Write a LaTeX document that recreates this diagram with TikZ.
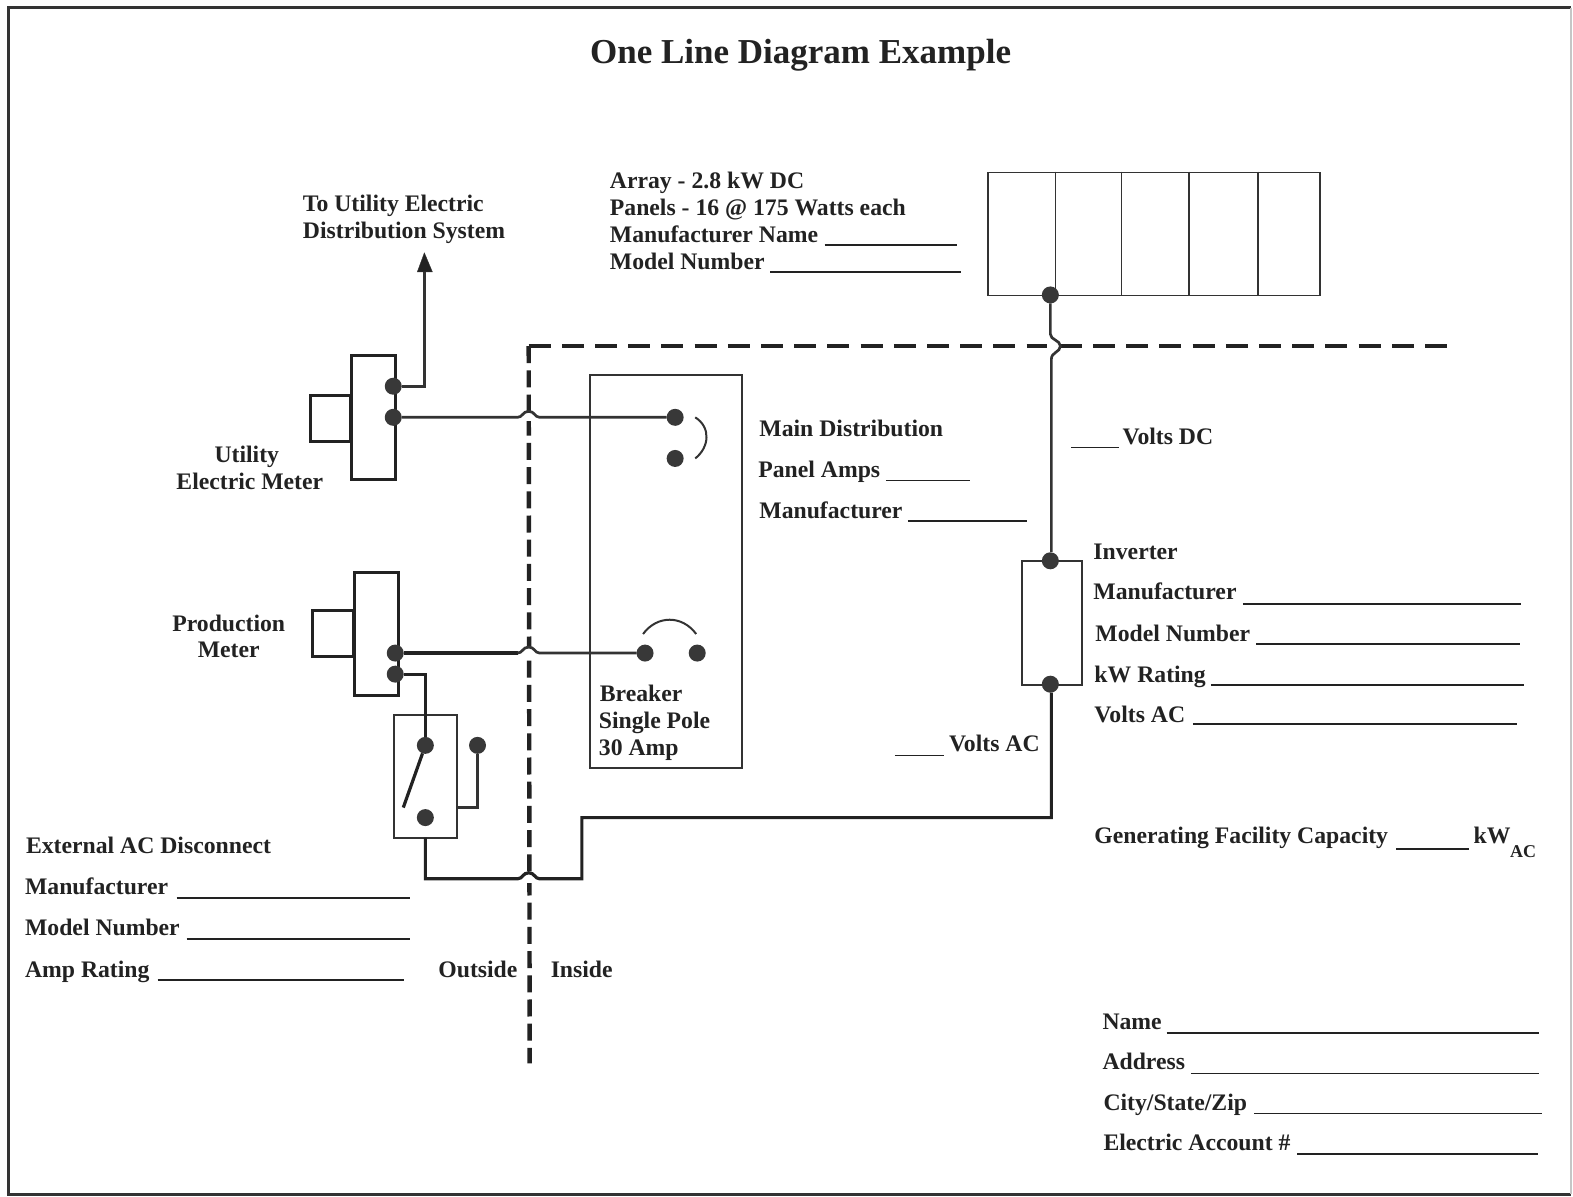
\documentclass[tikz,border=0pt]{standalone}
\usepackage{fontspec}
\setmainfont{Liberation Serif}
\usetikzlibrary{arrows.meta}
\definecolor{ink}{HTML}{222222}
\definecolor{wire}{HTML}{333333}
\newcommand{\bodyfs}{\fontsize{23.7}{27}\selectfont\bfseries}
\tikzset{
  lab/.style={anchor=base west,inner sep=0pt,outer sep=0pt,text=ink,font=\bodyfs},
  clab/.style={anchor=base,inner sep=0pt,outer sep=0pt,text=ink,font=\bodyfs},
  titlelab/.style={anchor=base,inner sep=0pt,text=ink,font=\fontsize{35}{38}\selectfont\bfseries},
  sublab/.style={anchor=base west,inner sep=0pt,text=ink,font=\fontsize{18}{20}\selectfont\bfseries},
  dot/.style={circle,fill=ink!90!white,draw=none,minimum size=17pt,inner sep=0pt,outer sep=0pt},
  meterbox/.style={draw=ink,line width=3pt,outer sep=0pt},
  thinbox/.style={draw=wire,line width=1.7pt,outer sep=0pt},
  wireline/.style={draw=wire,line width=2.7pt},
  thickwire/.style={draw=ink,line width=3.2pt},
  blank/.style={draw=ink,line width=1.8pt},
  boundary/.style={draw=ink,line width=4.4pt},
}
\begin{document}
\begin{tikzpicture}[x=1.0032pt,y=-1.0032pt]
\useasboundingbox (0,0) rectangle (1568,1193);
\fill[white] (0,0) rectangle (1568,1193);
\draw[draw=wire,line width=3pt] (1566,7.5) -- (8.5,7.5) -- (8.5,1190.5) -- (1566,1190.5);
\draw[draw=gray!45,line width=1.5pt] (1566,7.5) -- (1566,1190.5);

% boundary
\coordinate (bcorner) at (527,345);
\coordinate (bright) at (1443,345);
\coordinate (bbottom) at (528,1060);
\draw[boundary,dash pattern=on 22pt off 11.2pt] (bcorner) -- (bright);
\draw[boundary,dash pattern=on 17pt off 7.2pt] (bcorner) -- (bbottom);
% white gaps under the wire hops
\fill[white] (520,411) rectangle (535,420);
\fill[white] (520,646) rectangle (535,655);
\fill[white] (520,871) rectangle (535,880);
\fill[white] (1044,340) rectangle (1058,350);

% array
\node[thinbox,minimum width=332pt,minimum height=123pt,inner sep=0pt,anchor=north west] (array) at (985,172) {};
\draw[thinbox] (1052,171) -- (1052,294);
\draw[thinbox] (1118,171) -- (1118,294);
\draw[thinbox] (1185,171) -- (1185,294);
\draw[thinbox] (1254,171) -- (1254,294);

% main panel
\node[thinbox,minimum width=152pt,minimum height=393pt,inner sep=0pt,anchor=north west] (panel) at (588,374) {};
% inverter
\node[thinbox,minimum width=60pt,minimum height=124pt,inner sep=0pt,anchor=north west] (inverter) at (1018.5,559.5) {};
% disconnect
\node[thinbox,minimum width=63pt,minimum height=123pt,inner sep=0pt,anchor=north west] (disc) at (393,713) {};
% meters
\node[meterbox,minimum width=44pt,minimum height=124pt,inner sep=0pt,anchor=north west] (umeter) at (350,354) {};
\node[meterbox,minimum width=40pt,minimum height=46pt,inner sep=0pt,anchor=north west] (usmall) at (310,394) {};
\node[meterbox,minimum width=44pt,minimum height=123pt,inner sep=0pt,anchor=north west] (pmeter) at (353,571) {};
\node[meterbox,minimum width=41pt,minimum height=46pt,inner sep=0pt,anchor=north west] (psmall) at (312,609) {};

% dots
\node[dot] (d-array) at (1047,294) {};
\node[dot] (d-invtop) at (1047,559) {};
\node[dot] (d-invbot) at (1047,682) {};
\node[dot] (d-um1) at (392,385) {};
\node[dot] (d-um2) at (392,416) {};
\node[dot] (d-pm1) at (394,651) {};
\node[dot] (d-pm2) at (394,672) {};
\node[dot] (d-main1) at (673,416) {};
\node[dot] (d-main2) at (673,457) {};
\node[dot] (d-brk1) at (643,651) {};
\node[dot] (d-brk2) at (695,651) {};
\node[dot] (d-sw1) at (424,743) {};
\node[dot] (d-sw2) at (424,815) {};
\node[dot] (d-sw3) at (476,743) {};
\coordinate (arrowtop) at (423,252);

% connectors
\draw[wireline] (d-array) -- (1047,333) .. controls (1047,339) and (1057,339) .. (1057,345) .. controls (1057,351) and (1048,351) .. (1048,358) -- (1048,550);
\draw[thickwire] (d-invbot.south -| 1048,682) -- (1048,815) -- (580,815) -- (580,876) -- (538,876) .. controls (533,876) and (533,870) .. (527,870) .. controls (521,870) and (521,876) .. (516,876) -- (424,876) -- (424,835);
\draw[wireline] (d-um1) -| (423,271);
\draw[draw=wire,fill=ink] (arrowtop) -- (431,271) -- (416,271) -- cycle;
\draw[wireline] (d-um2) -- (516,416) .. controls (521,416) and (521,410) .. (527,410) .. controls (533,410) and (533,416) .. (538,416) -- (d-main1);
\draw[thickwire] (d-pm1) -- (516,651);
\draw[wireline] (516,651) .. controls (521,651) and (521,645) .. (527,645) .. controls (533,645) and (533,651) .. (538,651) -- (d-brk1);
\draw[thickwire] (d-pm2) -| (d-sw1);
\draw[thickwire] (d-sw1) -- (402,805);
\draw[wireline] (d-sw3) -- (476,805) -- (455,805);
\draw[wireline,line width=2pt] (693,416) .. controls (709,426) and (707,446) .. (693,457);
\draw[wireline,line width=2pt] (641,632) .. controls (655,613) and (680,613) .. (694,632);

% texts
\node[titlelab] (title) at (798,63.5) {One Line Diagram Example};
\node[lab] (t1) at (302,210.5) {To Utility Electric};
\node[lab] (t2) at (302,237.5) {Distribution System};
\node[lab] (t3) at (608,187.5) {Array - 2.8 kW DC};
\node[lab] (t4) at (608,214.5) {Panels - 16 @ 175 Watts each};
\node[lab] (t5) at (608,241.5) {Manufacturer Name};
\node[lab] (t6) at (608,268.5) {Model Number};
\node[clab] (t7) at (246,461) {Utility};
\node[clab] (t8) at (249,488) {Electric Meter};
\node[clab] (t9) at (228,629) {Production};
\node[clab] (t10) at (228,655) {Meter};
\node[lab] (t11) at (757,435) {Main Distribution};
\node[lab] (t12) at (756,476) {Panel Amps};
\node[lab] (t13) at (757,516.5) {Manufacturer};
\node[lab] (t14) at (1119,443) {Volts DC};
\node[lab] (t15) at (1090,558) {Inverter};
\node[lab] (t16) at (1090,598) {Manufacturer};
\node[lab] (t17) at (1092,639) {Model Number};
\node[lab] (t18) at (1091,680) {kW Rating};
\node[lab] (t19) at (1091,720) {Volts AC};
\node[lab] (t20) at (946,749) {Volts AC};
\node[lab] (t21) at (598,699) {Breaker};
\node[lab] (t22) at (597,726) {Single Pole};
\node[lab] (t23) at (597,753) {30 Amp};
\node[lab] (t24) at (1091,841) {Generating Facility Capacity};
\node[lab] (t25) at (1469,841) {kW};
\node[sublab] (t26) at (1505,855) {AC};
\node[lab] (t27) at (26,851) {External AC Disconnect};
\node[lab] (t28) at (25,892) {Manufacturer};
\node[lab] (t29) at (25,933) {Model Number};
\node[lab] (t30) at (25,974) {Amp Rating};
\node[lab] (t31) at (437,974) {Outside};
\node[lab] (t32) at (549,974) {Inside};
\node[lab] (t33) at (1099,1026) {Name};
\node[lab] (t34) at (1099,1066) {Address};
\node[lab] (t35) at (1100,1107) {City/State/Zip};
\node[lab] (t36) at (1100,1147) {Electric Account \#};

% fill-in blanks
\draw[blank] (822,244) -- (954,244);
\draw[blank] (768,271) -- (958,271);
\draw[blank] (883,479) -- (967,479);
\draw[blank] (905,519) -- (1024,519);
\draw[blank] (1068,446) -- (1115,446);
\draw[blank] (1239,602) -- (1516,602);
\draw[blank] (1252,642) -- (1515,642);
\draw[blank] (1207,683) -- (1519,683);
\draw[blank] (1189,722) -- (1512,722);
\draw[blank] (892,753) -- (941,753);
\draw[blank] (1392,846) -- (1464,846);
\draw[blank] (176,895) -- (409,895);
\draw[blank] (186,936) -- (409,936);
\draw[blank] (157,977) -- (403,977);
\draw[blank] (1163,1030) -- (1534,1030);
\draw[blank] (1187,1070) -- (1534,1070);
\draw[blank] (1250,1110) -- (1537,1110);
\draw[blank] (1293,1150) -- (1533,1150);
\end{tikzpicture}
\end{document}
